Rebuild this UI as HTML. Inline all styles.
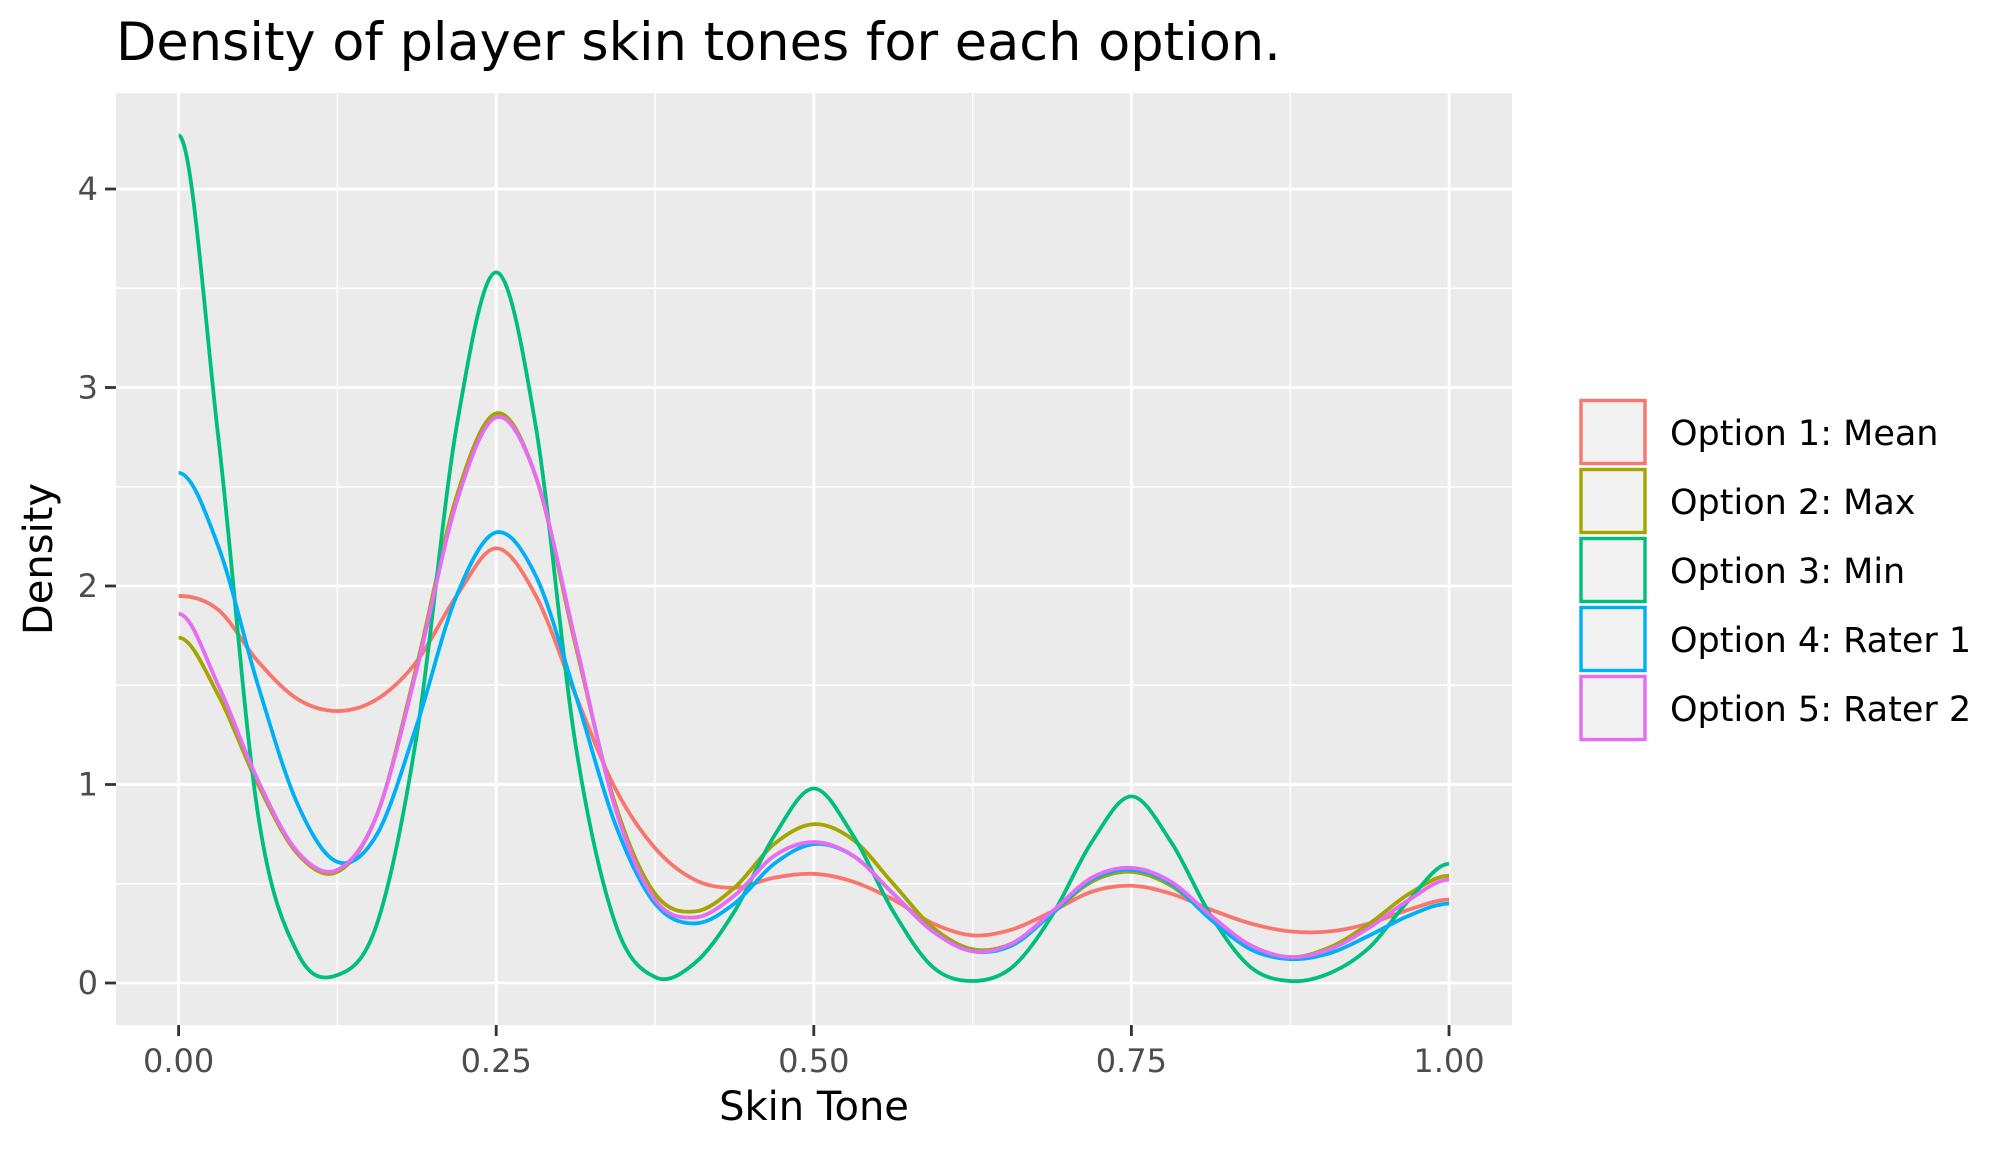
<!DOCTYPE html>
<html><head><meta charset="utf-8"><style>
html,body{margin:0;padding:0;background:#fff;}
svg{display:block;font-family:"DejaVu Sans","Liberation Sans",sans-serif;}
</style></head><body>
<svg id="chart" width="2016" height="1152" viewBox="0 0 2016 1152" xmlns="http://www.w3.org/2000/svg">
<text x="116" y="60" font-size="52.5" fill="#000">Density of player skin tones for each option.</text>
<rect x="116" y="93" width="1396" height="932" fill="#EBEBEB"/>
<g id="grid"></g>
<g id="series"></g>
<g id="axes"></g>
<text x="814" y="1120" font-size="40" text-anchor="middle" fill="#000">Skin Tone</text>
<text transform="translate(52,559) rotate(-90)" font-size="40" text-anchor="middle" fill="#000">Density</text>
<g id="legend"></g>
</svg>
<script>
const xs = [0,0.03125,0.0625,0.09375,0.125,0.15625,0.1875,0.21875,0.25,0.28125,0.3125,0.34375,0.375,0.40625,0.4375,0.46875,0.5,0.53125,0.5625,0.59375,0.625,0.65625,0.6875,0.71875,0.75,0.78125,0.8125,0.84375,0.875,0.90625,0.9375,0.96875,1];
const meanVals = [1.95,1.88,1.62,1.43,1.37,1.43,1.62,1.95,2.19,1.95,1.45,0.98,0.68,0.52,0.48,0.53,0.55,0.51,0.42,0.3,0.24,0.27,0.36,0.46,0.49,0.45,0.37,0.3,0.26,0.26,0.3,0.37,0.42];
const maxVals = [1.74,1.45,1.0,0.65,0.56,0.85,1.6,2.45,2.87,2.55,1.7,0.9,0.45,0.36,0.48,0.7,0.8,0.72,0.5,0.28,0.17,0.2,0.35,0.51,0.56,0.49,0.33,0.19,0.13,0.18,0.3,0.45,0.54];
const minVals = [4.27,2.75,0.85,0.15,0.04,0.3,1.25,2.8,3.58,2.8,1.2,0.3,0.03,0.1,0.36,0.74,0.98,0.74,0.36,0.08,0.01,0.08,0.34,0.71,0.94,0.71,0.34,0.08,0.01,0.05,0.18,0.42,0.6];
const rater1Vals = [2.57,2.2,1.5,0.9,0.61,0.75,1.3,1.95,2.27,2.05,1.45,0.8,0.4,0.3,0.4,0.6,0.7,0.64,0.45,0.26,0.16,0.19,0.35,0.52,0.57,0.5,0.32,0.17,0.12,0.15,0.24,0.34,0.4];
const rater2Vals = [1.86,1.5,1.02,0.66,0.57,0.85,1.58,2.42,2.85,2.55,1.72,0.88,0.42,0.33,0.44,0.64,0.71,0.64,0.45,0.26,0.16,0.2,0.36,0.53,0.58,0.51,0.34,0.19,0.13,0.17,0.28,0.42,0.52];
const seriesNames = ["Option 1: Mean","Option 2: Max","Option 3: Min","Option 4: Rater 1","Option 5: Rater 2"];
const xTicks = [0,0.25,0.5,0.75,1];
const xTickLabels = ["0.00","0.25","0.50","0.75","1.00"];
const yTicks = [0,1,2,3,4];
const yTickLabels = ["0","1","2","3","4"];

const NS="http://www.w3.org/2000/svg";
const colors=["#F8766D","#A3A500","#00BF7D","#00B0F6","#E76BF3"];
const allVals=[meanVals,maxVals,minVals,rater1Vals,rater2Vals];
const P={l:116,r:1512,t:93,b:1025};
const X=v=>178.6+v*1270.4;
const Y=v=>983-v*198.5;
function mk(tag,attrs,parent){const e=document.createElementNS(NS,tag);for(const k in attrs)e.setAttribute(k,attrs[k]);parent.appendChild(e);return e;}
const grid=document.getElementById('grid'),axes=document.getElementById('axes'),ser=document.getElementById('series'),leg=document.getElementById('legend');
for(let i=0;i<xTicks.length-1;i++){const v=(xTicks[i]+xTicks[i+1])/2;const l=mk('line',{x1:X(v),x2:X(v),y1:P.t,y2:P.b,stroke:'#fff','stroke-width':1.4},grid);

}
for(let i=0;i<yTicks.length-1;i++){const v=(yTicks[i]+yTicks[i+1])/2;const l=mk('line',{x1:P.l,x2:P.r,y1:Y(v),y2:Y(v),stroke:'#fff','stroke-width':1.4},grid);

}
xTicks.forEach((v,i)=>{const l=mk('line',{x1:X(v),x2:X(v),y1:P.t,y2:P.b,stroke:'#fff','stroke-width':2.8},grid);


const t=mk('line',{x1:X(v),x2:X(v),y1:P.b,y2:P.b+11,stroke:'#333','stroke-width':2.8},axes);


const tx=mk('text',{x:X(v),y:1072,'font-size':32,'text-anchor':'middle',fill:'#4D4D4D'},axes);tx.textContent=xTickLabels[i];

});
yTicks.forEach((v,i)=>{const l=mk('line',{x1:P.l,x2:P.r,y1:Y(v),y2:Y(v),stroke:'#fff','stroke-width':2.8},grid);


const t=mk('line',{x1:P.l-11,x2:P.l,y1:Y(v),y2:Y(v),stroke:'#333','stroke-width':2.8},axes);


const tx=mk('text',{x:P.l-18,y:Y(v)+11,'font-size':32,'text-anchor':'end',fill:'#4D4D4D'},axes);tx.textContent=yTickLabels[i];

});
function pathFor(vals){const pts=xs.map((x,i)=>[X(x),Y(vals[i])]);const n=pts.length;let d='M'+pts[0][0]+','+pts[0][1];
for(let i=0;i<n-1;i++){const p1=pts[i],p2=pts[i+1];
const p0=i>0?pts[i-1]:[2*p1[0]-p2[0],p2[1]];
const p3=i+2<n?pts[i+2]:[2*p2[0]-p1[0],p1[1]];
const c1=[p1[0]+(p2[0]-p0[0])/6,p1[1]+(p2[1]-p0[1])/6],c2=[p2[0]-(p3[0]-p1[0])/6,p2[1]-(p3[1]-p1[1])/6];
d+=' C'+c1[0]+','+c1[1]+' '+c2[0]+','+c2[1]+' '+p2[0]+','+p2[1];}return d;}
allVals.forEach((vals,i)=>{const p=mk('path',{d:pathFor(vals),fill:'none',stroke:colors[i],'stroke-width':3.8,'stroke-linejoin':'round'},ser);


const y0=399+i*69;
const r=mk('rect',{x:1581,y:y0+1.5,width:64,height:63,fill:'#F2F2F2',stroke:colors[i],'stroke-width':3.4},leg);


const t=mk('text',{x:1670,y:y0+46,'font-size':35,fill:'#000'},leg);t.textContent=seriesNames[i];

});
</script>
</body></html>
